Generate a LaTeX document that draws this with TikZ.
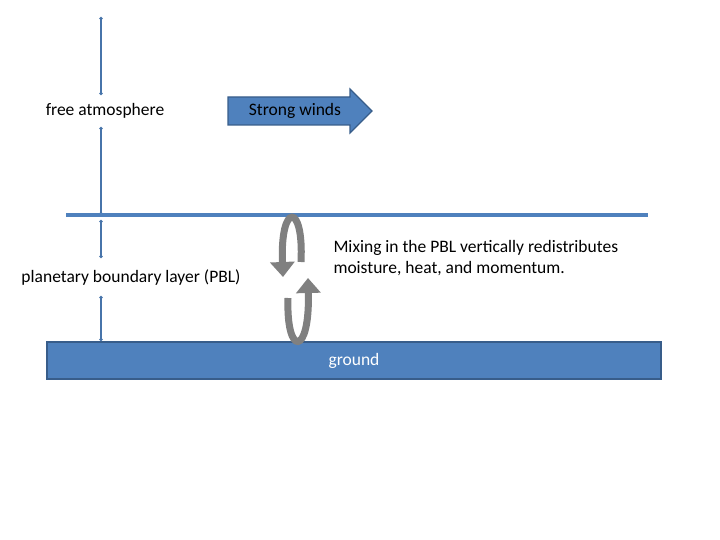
\documentclass[tikz,border=0pt]{standalone}
\usepackage{fontspec}
\setmainfont{Carlito}
\usetikzlibrary{arrows.meta}
\definecolor{acc}{HTML}{4F81BD}
\definecolor{accd}{HTML}{385D8A}
\definecolor{gr}{HTML}{808080}
\tikzset{vline/.style={draw=acc!90!black,line width=1.5pt,{Circle[length=3pt]}-{Circle[length=3pt]}},
lbl/.style={font=\fontsize{17.5}{21}\selectfont,text=black},
mix/.style={draw=gr,line width=7pt,-{Triangle[width=24pt,length=15pt]}}}
\begin{document}
\begin{tikzpicture}[x=1pt,y=-1pt]
\useasboundingbox (0,0) rectangle (720,540);
\node[lbl] (fa) at (105,111) {free atmosphere};
\node[lbl] (pbl) at (131,278) {planetary boundary layer (PBL)};
\coordinate (t1) at (101,17); \coordinate (t2) at (101,95);
\coordinate (t3) at (101,127); \coordinate (t4) at (101,215);
\coordinate (t5) at (101,220); \coordinate (t6) at (101,258);
\coordinate (t7) at (101,296); \coordinate (t8) at (101,341);
\draw[vline] (t2) -- (t1);
\draw[vline] (t3) -- (t4);
\draw[vline] (t6) -- (t5);
\draw[vline] (t7) -- (t8);
\coordinate (h1) at (66,215); \coordinate (h2) at (648,215);
\draw[acc,line width=4pt] (h1) -- (h2);
\node[draw=accd,fill=acc,line width=1.2pt,minimum width=614pt,minimum height=37pt,inner sep=0pt] (gnd) at (354,360.5) {};
\node[lbl,text=white] at (gnd) {ground};
\filldraw[fill=acc,draw=accd,line width=1.2pt] (228,97) -- (350,97) -- (350,89) -- (372,111) -- (350,133) -- (350,125) -- (228,125) -- cycle;
\node[lbl] (sw) at (295,111) {Strong winds};
\node[lbl,align=left,anchor=north west] (mx) at (330,237) {Mixing in the PBL vertically redistributes\\moisture, heat, and momentum.};
\draw[mix] (301,262) .. controls (304,202) and (280,202) .. (283,277);
\draw[mix] (288,298) .. controls (286,357) and (310,357) .. (308,278);
\end{tikzpicture}
\end{document}
